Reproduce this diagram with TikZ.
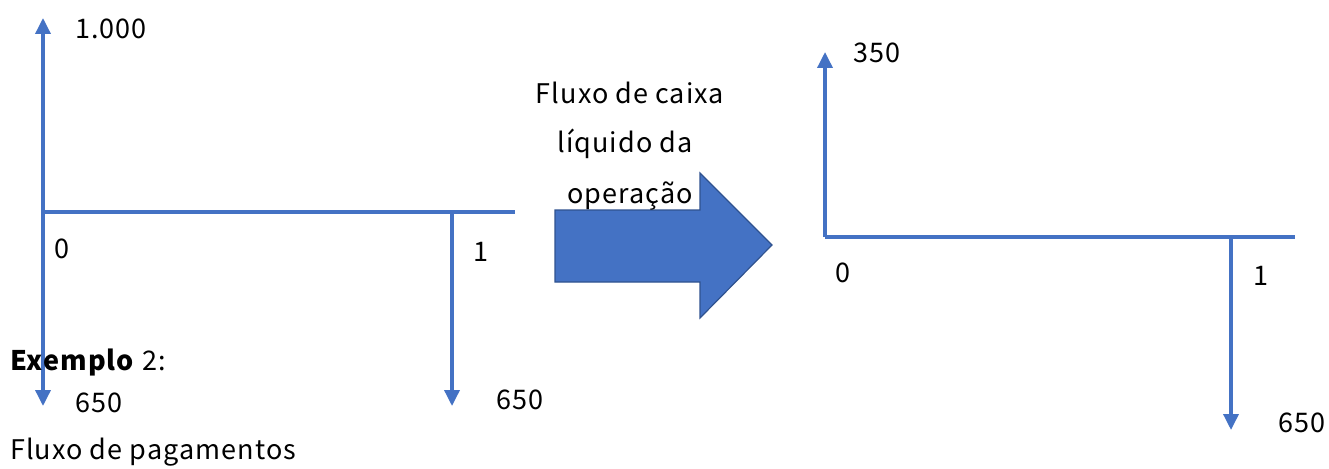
\documentclass[tikz,border=0pt]{standalone}
\usepackage{fontspec}
\setmainfont{Noto Sans CJK JP}[LetterSpace=4]
\usetikzlibrary{positioning,calc,arrows.meta}
\definecolor{axisblue}{HTML}{4472C4}
\definecolor{edgeblue}{HTML}{2F528F}

\begin{document}
\begin{tikzpicture}[x=1pt, y=-1pt,
    axis/.style={line width=3.5pt, axisblue},
    flow/.style={axis, -{Triangle[width=15pt,length=16pt]}},
    lbl/.style={inner sep=0pt, font=\fontsize{27}{32}\selectfont}]
        \useasboundingbox (0,0) rectangle (1329,468);

        % esquerda: fluxo de pagamentos
        \coordinate (l0) at (43,212);
        \coordinate (l1) at (452,212);
        \coordinate (lend) at (515,212);
        \coordinate (ltop) at (43,18);
        \coordinate (lbot) at (43,406);
        \coordinate (l1bot) at (452,406);
        \draw[axis] (l0) -- (lend);
        \draw[flow] (l0) -- (ltop);
        \draw[flow] (l0) -- (lbot);
        \draw[flow] (l1) -- (l1bot);
        \node[lbl, anchor=west] (lin) at (75,29) {1.000};
        \node[lbl] (lt0) at (62,249) {0};
        \node[lbl] (lt1) at (481,252) {1};
        \node[lbl, anchor=west] (lout0) at (75,403) {650};
        \node[lbl, anchor=west] (lout1) at (496,400) {650};
        \node[lbl, anchor=west] (ex) at (10,363) {\textbf{Exemplo} 2:};
        \node[lbl, anchor=west] (title) at (10,452) {Fluxo de pagamentos};

        % seta do meio
        \draw[edgeblue, fill=axisblue, line width=1.2pt, line join=miter]
            (555,210) -- (700,210) -- (700,173) -- (772,245) -- (700,318)
            -- (700,282) -- (555,282) -- cycle;
        \node[lbl] (net1) at (630,93) {Fluxo de caixa};
        \node[lbl] (net2) at (625,144) {líquido da};
        \node[lbl] (net3) at (630,196) {operação};

        % direita: fluxo liquido
        \coordinate (r0) at (825,237);
        \coordinate (r1) at (1231,237);
        \coordinate (rend) at (1295,237);
        \coordinate (rtop) at (825,52);
        \coordinate (r1bot) at (1231,430);
        \draw[axis] (r0) -- (rend);
        \draw[flow] (r0) -- (rtop);
        \draw[flow] (r1) -- (r1bot);
        \node[lbl, anchor=west] (rin) at (853,53) {350};
        \node[lbl] (rt0) at (843,273) {0};
        \node[lbl] (rt1) at (1261,276) {1};
        \node[lbl, anchor=west] (rout1) at (1278,423) {650};
\end{tikzpicture}
\end{document}
